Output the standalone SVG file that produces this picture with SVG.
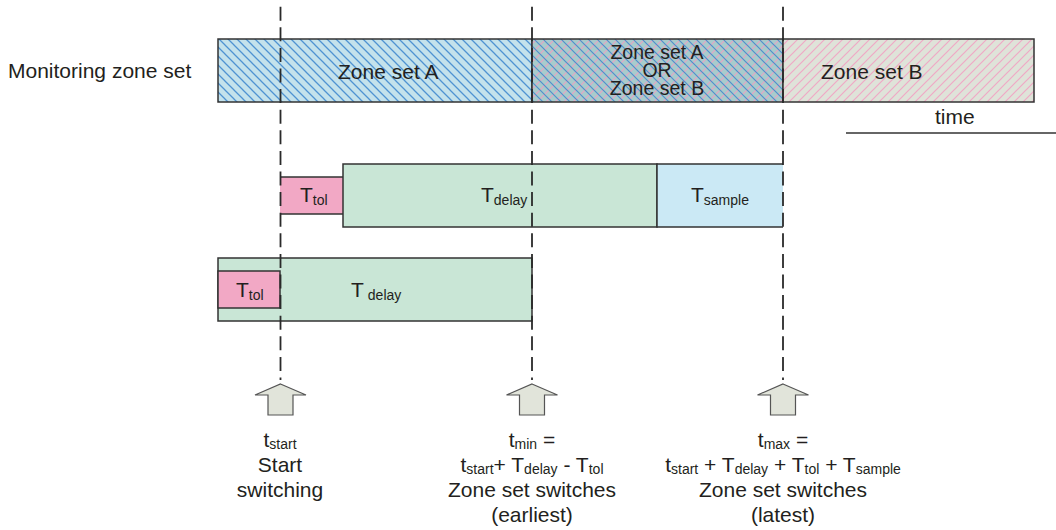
<svg xmlns="http://www.w3.org/2000/svg" xmlns:xlink="http://www.w3.org/1999/xlink" width="1056" height="530" viewBox="0 0 1056 530">
<style>
text{font-family:"Liberation Sans",Arial,sans-serif;font-size:21px;fill:#231f20}
.sub{font-size:14px}
.box{stroke:#333;stroke-width:1.5}
.edge{fill:none;stroke:#333;stroke-width:1.5}
.dash{stroke:#2a2a2a;stroke-width:1.8;stroke-dasharray:14 6.6;fill:none}
.arrow{fill:#e1e4da;stroke:#555;stroke-width:1.2}
</style>
<defs>
<pattern id="hA" patternUnits="userSpaceOnUse" width="9" height="9">
<rect width="9" height="9" fill="#c4e2ec"/>
<path d="M-1,-1 L10,10 M-1,8 L1,10 M8,-1 L10,1" stroke="#4f93d2" stroke-width="1.3"/>
</pattern>
<pattern id="hAB" patternUnits="userSpaceOnUse" width="9" height="9">
<rect width="9" height="9" fill="#a9cbcc"/>
<path d="M-1,10 L10,-1 M-1,1 L1,-1 M8,10 L10,8" stroke="#e8a3c3" stroke-width="1.1"/>
<path d="M-1,-1 L10,10 M-1,8 L1,10 M8,-1 L10,1" stroke="#4f8fcc" stroke-width="1.2"/>
</pattern>
<pattern id="hB" patternUnits="userSpaceOnUse" width="9" height="9">
<rect width="9" height="9" fill="#dfe3d9"/>
<path d="M-1,10 L10,-1 M-1,1 L1,-1 M8,10 L10,8" stroke="#f0a9c6" stroke-width="1.2"/>
</pattern>
<path id="uparrow" class="arrow" d="M0,384 L25.5,395 L12.5,395 L12.5,415 L-12.5,415 L-12.5,395 L-25.5,395 Z"/>
</defs>

<g id="label-monitoring"><text x="8" y="78">Monitoring zone set</text></g>

<g id="zone-set-a">
<rect class="box" x="218" y="39" width="314" height="63" fill="url(#hA)"/>
<text x="338" y="79">Zone set A</text>
</g>
<g id="zone-set-a-or-b">
<rect class="box" x="532" y="39" width="251" height="63" fill="url(#hAB)"/>
<text x="657" y="59" text-anchor="middle" style="font-size:19.5px">Zone set A</text>
<text x="657" y="77" text-anchor="middle" style="font-size:19.5px">OR</text>
<text x="657" y="95" text-anchor="middle" style="font-size:19.5px">Zone set B</text>
</g>
<g id="zone-set-b">
<rect class="box" x="783" y="39" width="251" height="63" fill="url(#hB)"/>
<text x="821" y="79">Zone set B</text>
</g>
<g id="time-label"><text x="935" y="124">time</text></g>

<g id="row1-ttol">
<rect x="280" y="177" width="63" height="37" fill="#f2a8c5"/>
<path class="edge" d="M280,177 H343 M280,214 H343"/>
<text x="300" y="202">T<tspan class="sub" dy="3">tol</tspan></text>
</g>
<g id="row1-tdelay">
<rect class="box" x="343" y="164" width="314" height="63" fill="#c9e6d6"/>
<text x="481" y="202">T<tspan class="sub" dy="3">delay</tspan></text>
</g>
<g id="row1-tsample">
<rect x="657" y="164" width="126" height="63" fill="#cbe9f5"/>
<path class="edge" d="M783,164 H657 V227 H783"/>
<text x="691" y="202">T<tspan class="sub" dy="3">sample</tspan></text>
</g>

<g id="row2-tdelay">
<rect class="box" x="218" y="258" width="314" height="63" fill="#c9e6d6"/>
<text x="351" y="297">T<tspan class="sub" dx="4" dy="3">delay</tspan></text>
</g>
<g id="row2-ttol">
<rect class="box" x="218" y="271" width="62" height="37" fill="#f2a8c5"/>
<text x="236" y="297">T<tspan class="sub" dy="3">tol</tspan></text>
</g>

<g id="connectors">
<line class="dash" x1="280.5" y1="6.7" x2="280.5" y2="380"/>
<line class="dash" x1="532" y1="6.7" x2="532" y2="380"/>
<line class="dash" x1="783" y1="6.7" x2="783" y2="380"/>
<line x1="846" y1="133" x2="1056" y2="133" stroke="#333" stroke-width="1.5"/>
</g>

<g id="marker-start">
<use xlink:href="#uparrow" x="280.5"/>
<text x="280" y="447" text-anchor="middle">t<tspan class="sub" dy="2">start</tspan></text>
<text x="280" y="472" text-anchor="middle">Start</text>
<text x="280" y="497" text-anchor="middle">switching</text>
</g>
<g id="marker-min">
<use xlink:href="#uparrow" x="532"/>
<text x="532" y="447" text-anchor="middle">t<tspan class="sub" dy="2">min</tspan><tspan dy="-2"> =</tspan></text>
<text x="532" y="472" text-anchor="middle">t<tspan class="sub" dy="2">start</tspan><tspan dy="-2">+ T</tspan><tspan class="sub" dy="2">delay</tspan><tspan dy="-2"> - T</tspan><tspan class="sub" dy="2">tol</tspan></text>
<text x="532" y="497" text-anchor="middle">Zone set switches</text>
<text x="532" y="522" text-anchor="middle">(earliest)</text>
</g>
<g id="marker-max">
<use xlink:href="#uparrow" x="783"/>
<text x="783" y="447" text-anchor="middle">t<tspan class="sub" dy="2">max</tspan><tspan dy="-2"> =</tspan></text>
<text x="783" y="472" text-anchor="middle">t<tspan class="sub" dy="2">start</tspan><tspan dy="-2"> + T</tspan><tspan class="sub" dy="2">delay</tspan><tspan dy="-2"> + T</tspan><tspan class="sub" dy="2">tol</tspan><tspan dy="-2"> + T</tspan><tspan class="sub" dy="2">sample</tspan></text>
<text x="783" y="497" text-anchor="middle">Zone set switches</text>
<text x="783" y="522" text-anchor="middle">(latest)</text>
</g>
</svg>
